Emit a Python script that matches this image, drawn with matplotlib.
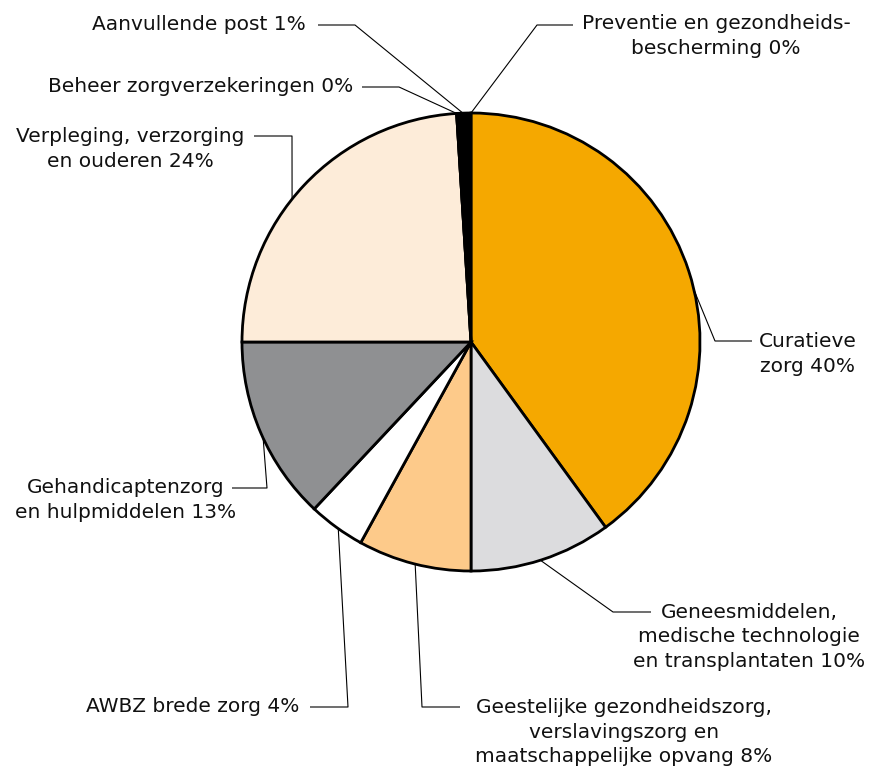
import numpy as np
import matplotlib.pyplot as plt

# --- data ---
categorias = [
    'Preventie en gezondheids-\nbescherming 0%',
    'Curatieve\nzorg 40%',
    'Geneesmiddelen,\nmedische technologie\nen transplantaten 10%',
    'Geestelijke gezondheidszorg,\nverslavingszorg en\nmaatschappelijke opvang 8%',
    'AWBZ brede zorg 4%',
    'Gehandicaptenzorg\nen hulpmiddelen 13%',
    'Verpleging, verzorging\nen ouderen 24%',
    'Beheer zorgverzekeringen 0%',
    'Aanvullende post 1%',
]
aandeel = [0, 40, 10, 8, 4, 13, 24, 0, 1]
kleuren = ['#000000', '#F5A800', '#DCDCDE', '#FDCA8A', '#FFFFFF',
           '#8F9092', '#FDECD9', '#000000', '#000000']

# --- layout (pixels, y measured from top) ---
W, H = 874, 769
CX, CY, R = 471, 342, 229

# fraction along each wedge where the leader starts, elbow, line end, text pos, alignment
fractie = [0.5, 0.534, 0.51, 0.49, 0.46, 0.47, 0.447, 0.5, 0.44]
knik = [(537, 25), (715, 341), (613, 612), (422, 707), (348, 707),
        (267, 488), (292, 136), (399, 87), (355, 25)]
eind = [(573, 25), (752, 341), (651, 612), (460, 707), (310, 707),
        (232, 488), (254, 136), (362, 87), (318, 25)]
tekst_pos = [(716, 36), (808, 354), (749, 637), (624, 732), (299, 707),
             (126, 500), (130, 149), (353, 87), (306, 25)]
uitlijning = ['center', 'center', 'center', 'center', 'right',
              'center', 'center', 'right', 'right']

plt.rcParams['font.family'] = ['DejaVu Sans']

fig = plt.figure(figsize=(W / 100, H / 100), dpi=100)
ax = fig.add_axes([0, 0, 1, 1])

wedges, _ = ax.pie(aandeel, colors=kleuren, startangle=90, counterclock=False,
                   center=(CX, H - CY), radius=R, normalize=True,
                   wedgeprops=dict(edgecolor='black', linewidth=2))
ax.set_xlim(0, W)
ax.set_ylim(0, H)
ax.set_aspect('equal')
ax.axis('off')

for w, f, k, e, tp, ha, lab in zip(wedges, fractie, knik, eind, tekst_pos,
                                   uitlijning, categorias):
    # wedges are drawn clockwise, so each one starts at theta2
    hoek = np.deg2rad(w.theta2 - f * (w.theta2 - w.theta1))
    ax_x = CX + R * np.cos(hoek)
    ax_y = (H - CY) + R * np.sin(hoek)
    ax.plot([ax_x, k[0], e[0]], [ax_y, H - k[1], H - e[1]],
            color='black', linewidth=0.8, solid_capstyle='butt')
    ax.text(tp[0], H - tp[1], lab, ha=ha, va='center', multialignment='center',
            fontsize=14.5, color='#111111', linespacing=1.36)

fig.savefig('out.png', dpi=100)
